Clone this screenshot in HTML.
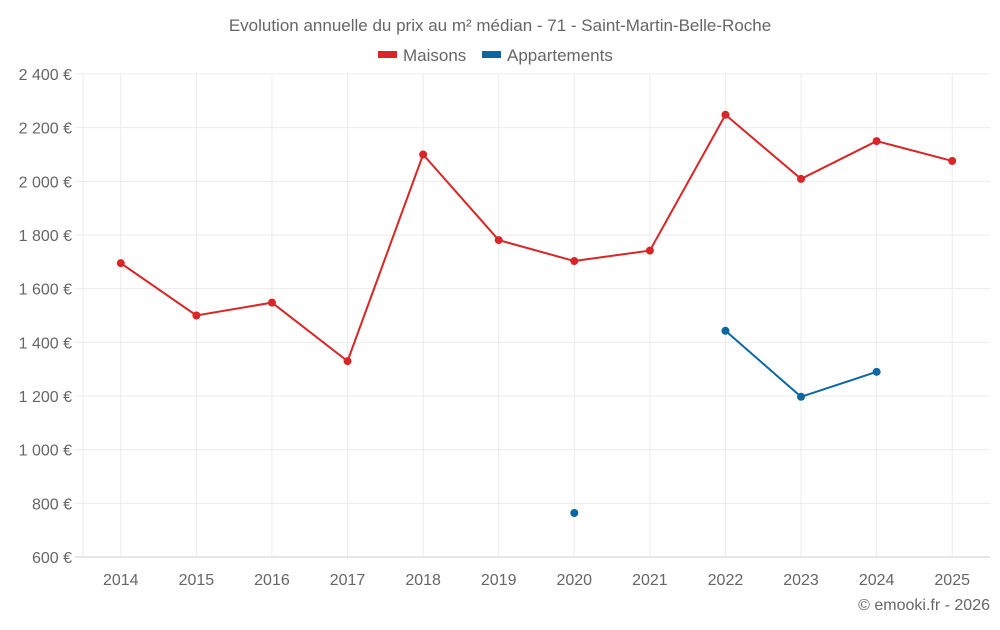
<!DOCTYPE html>
<html><head><meta charset="utf-8"><style>
body{margin:0;background:#fff;font-family:"Liberation Sans",sans-serif;}
svg text{font-family:"Liberation Sans",sans-serif;fill:#666;}
</style></head><body>
<svg id="c" width="1000" height="625">
<text x="500" y="31" text-anchor="middle" font-size="17">Evolution annuelle du prix au m² médian - 71 - Saint-Martin-Belle-Roche</text>
<g><rect x="378" y="51" width="19" height="7" fill="#d92525"/><text x="403" y="61" font-size="17">Maisons</text></g>
<g><rect x="482" y="51" width="19" height="7" fill="#0a67a3"/><text x="507" y="61" font-size="17">Appartements</text></g>
<g id="grid"></g><g id="axes"></g><g id="series"></g>
<text x="990" y="610" text-anchor="end" font-size="16">© emooki.fr - 2026</text>
</svg>
<script>
const years=["2014","2015","2016","2017","2018","2019","2020","2021","2022","2023","2024","2025"];
const maisons=[1695,1500,1548,1330,2100,1781,1703,1742,2248,2009,2150,2076];
const apparts=[null,null,null,null,null,null,764,null,1443,1197,1290,null];
const yTicks=[600,800,1000,1200,1400,1600,1800,2000,2200,2400];
const L=83,R=990,T=74,B=557,yMin=600,yMax=2400;
const bw=(R-L)/years.length;
const x=i=>L+bw*(i+0.5);
const y=v=>B-(v-yMin)/(yMax-yMin)*(B-T);
const NS="http://www.w3.org/2000/svg";
function mk(p,t,a){const e=document.createElementNS(NS,t);for(const k in a)e.setAttribute(k,a[k]);p.appendChild(e);return e;}
const g=document.getElementById('grid'),ax=document.getElementById('axes'),s=document.getElementById('series');
const fmt=v=>String(v).replace(/\B(?=(\d{3})+(?!\d))/g," ")+" €";
yTicks.forEach(v=>{
 const l=mk(g,'line',{x1:L-8,x2:R,y1:y(v),y2:y(v),stroke:v===yMin?'#ccc':'#ebebeb'});
 
 
 const t=mk(ax,'text',{x:72,y:y(v)+6,'text-anchor':'end','font-size':16});
 t.textContent=fmt(v);
 
 
});
const la=mk(g,'line',{x1:L,x2:L,y1:T,y2:B,stroke:'#ebebeb'});


years.forEach((yr,i)=>{
 const l=mk(g,'line',{x1:x(i),x2:x(i),y1:T,y2:B,stroke:'#ebebeb'});
 
 
 const t=mk(ax,'text',{x:x(i),y:585,'text-anchor':'middle','font-size':16});
 t.textContent=yr;
 
 
});
function draw(data,color,name){
 let seg=[];const segs=[];
 data.forEach((v,i)=>{if(v==null){if(seg.length)segs.push(seg);seg=[];}else seg.push([x(i),y(v)]);});
 if(seg.length)segs.push(seg);
 segs.forEach(sg=>{if(sg.length>1){
  const p=mk(s,'polyline',{points:sg.map(q=>q.join(',')).join(' '),fill:'none',stroke:color,'stroke-width':2});
  
  
 }});
 data.forEach((v,i)=>{if(v==null)return;
  const c=mk(s,'circle',{cx:x(i),cy:y(v),r:4,fill:color});
  
  
 });
}
draw(maisons,'#d92525','maisons');
draw(apparts,'#0a67a3','appartements');
</script>
</body></html>
